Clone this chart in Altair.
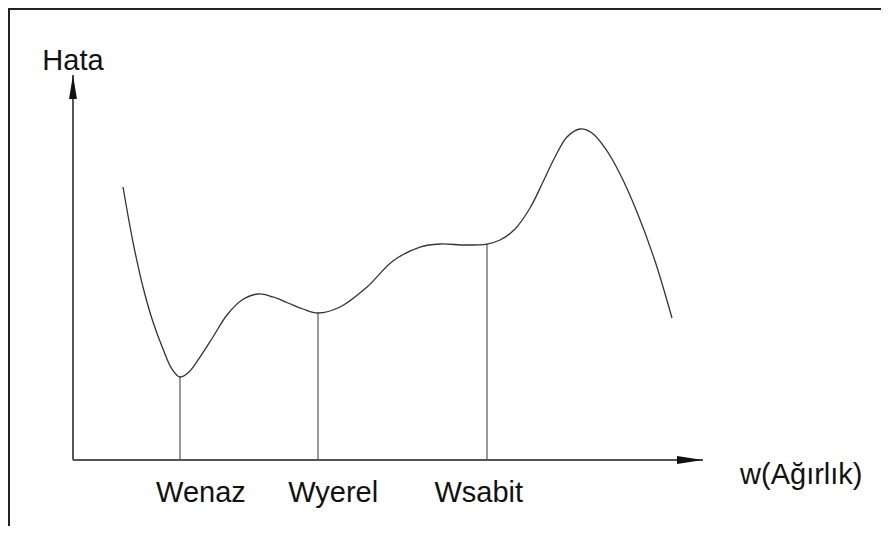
import altair as alt
import pandas as pd

# Error curve (w, Hata)
curve_w = [7.94, 9.52, 11.11, 12.70, 14.29, 15.71, 16.98, 18.41, 20.16, 22.22, 24.44, 26.83,
           29.37, 31.75, 34.13, 36.51, 38.89, 42.38, 46.67, 50.79, 55.08, 58.25, 62.22,
           65.71, 67.78, 70.16, 72.54, 74.60, 76.51, 78.41, 80.48, 82.38, 84.44, 86.83,
           89.52, 92.38, 95.08]
curve_hata = [70.91, 56.62, 44.94, 35.84, 28.83, 23.64, 21.56, 22.86, 26.75, 31.95, 37.66, 41.56,
              43.12, 42.34, 40.78, 39.22, 38.18, 39.74, 44.94, 51.69, 55.32, 56.10, 55.84,
              56.10, 57.14, 60.00, 65.45, 72.21, 78.70, 83.90, 85.97, 84.94, 81.04, 74.29,
              64.42, 51.69, 36.88]

# Marked weights
point_names = ["Wenaz", "Wyerel", "Wsabit"]
point_w = [16.98, 38.89, 65.71]
point_hata = [21.56, 38.18, 56.10]
label_w = [20.3, 41.3, 64.4]
label_hata = [-10.9, -10.9, -10.9]

# Axis texts
axis_titles = ["Hata", "w(Ağırlık)"]
axis_title_w = [0.0, 115.6]
axis_title_hata = [101.3, -6.2]
axis_len = 100

W, H = 873, 518
xs = alt.Scale(domain=[-10.317, 128.254], nice=False, zero=False)
ys = alt.Scale(domain=[-17.143, 117.403], nice=False, zero=False)
FONT = "Liberation Sans"

curve_df = pd.DataFrame({"w": curve_w, "hata": curve_hata})
drop_df = pd.DataFrame({"w": point_w, "hata": point_hata, "base": [0] * len(point_w)})
label_df = pd.DataFrame({"name": point_names, "w": label_w, "hata": label_hata})
axes_df = pd.DataFrame({"w": [0, 0], "hata": [0, 0], "w2": [axis_len, 0], "hata2": [0, axis_len]})
arrow_df = pd.DataFrame({
    "w": [axis_len, 0],
    "hata": [0, axis_len],
    "shape": ["M0,0L-2,-0.3L-2,0.3Z", "M0,0L-0.33,2L0.33,2Z"],
    "size": [676, 576],
})
title_df = pd.DataFrame({"t": axis_titles, "w": axis_title_w, "hata": axis_title_hata})
one = pd.DataFrame({"a": [0]})

curve = alt.Chart(curve_df).mark_line(interpolate="catmull-rom", color="#333333", strokeWidth=1.3).encode(
    x=alt.X("w:Q", scale=xs, axis=None),
    y=alt.Y("hata:Q", scale=ys, axis=None),
)
drops = alt.Chart(drop_df).mark_rule(color="#555555", strokeWidth=1.2).encode(
    x=alt.X("w:Q", scale=xs, axis=None),
    y=alt.Y("hata:Q", scale=ys, axis=None),
    y2="base:Q",
)
axes = alt.Chart(axes_df).mark_rule(color="#555555", strokeWidth=2).encode(
    x=alt.X("w:Q", scale=xs, axis=None),
    y=alt.Y("hata:Q", scale=ys, axis=None),
    x2="w2:Q",
    y2="hata2:Q",
)
arrows = alt.Chart(arrow_df).mark_point(filled=True, color="#111111", opacity=1, strokeWidth=0).encode(
    x=alt.X("w:Q", scale=xs, axis=None),
    y=alt.Y("hata:Q", scale=ys, axis=None),
    shape=alt.Shape("shape:N", scale=None, legend=None),
    size=alt.Size("size:Q", scale=None, legend=None),
)
labels = alt.Chart(label_df).mark_text(fontSize=29, font=FONT, color="#111111", align="center", baseline="alphabetic").encode(
    x=alt.X("w:Q", scale=xs, axis=None),
    y=alt.Y("hata:Q", scale=ys, axis=None),
    text="name:N",
)
titles = alt.Chart(title_df).mark_text(fontSize=29, font=FONT, color="#111111", align="center", baseline="alphabetic").encode(
    x=alt.X("w:Q", scale=xs, axis=None),
    y=alt.Y("hata:Q", scale=ys, axis=None),
    text="t:N",
)
border_left = alt.Chart(one).mark_rule(color="#222222", strokeWidth=2).encode(
    x=alt.value(1), y=alt.value(0), y2=alt.value(H)
)
border_top = alt.Chart(one).mark_rule(color="#222222", strokeWidth=2).encode(
    x=alt.value(1), x2=alt.value(W), y=alt.value(1)
)

chart = alt.layer(border_left, border_top, axes, drops, curve, arrows, labels, titles).properties(
    width=W, height=H, padding=0, autosize=alt.AutoSizeParams(type="none"), background="white"
).configure_view(stroke=None)

chart.save("out.html", embed_options={"renderer": "svg", "actions": False})
